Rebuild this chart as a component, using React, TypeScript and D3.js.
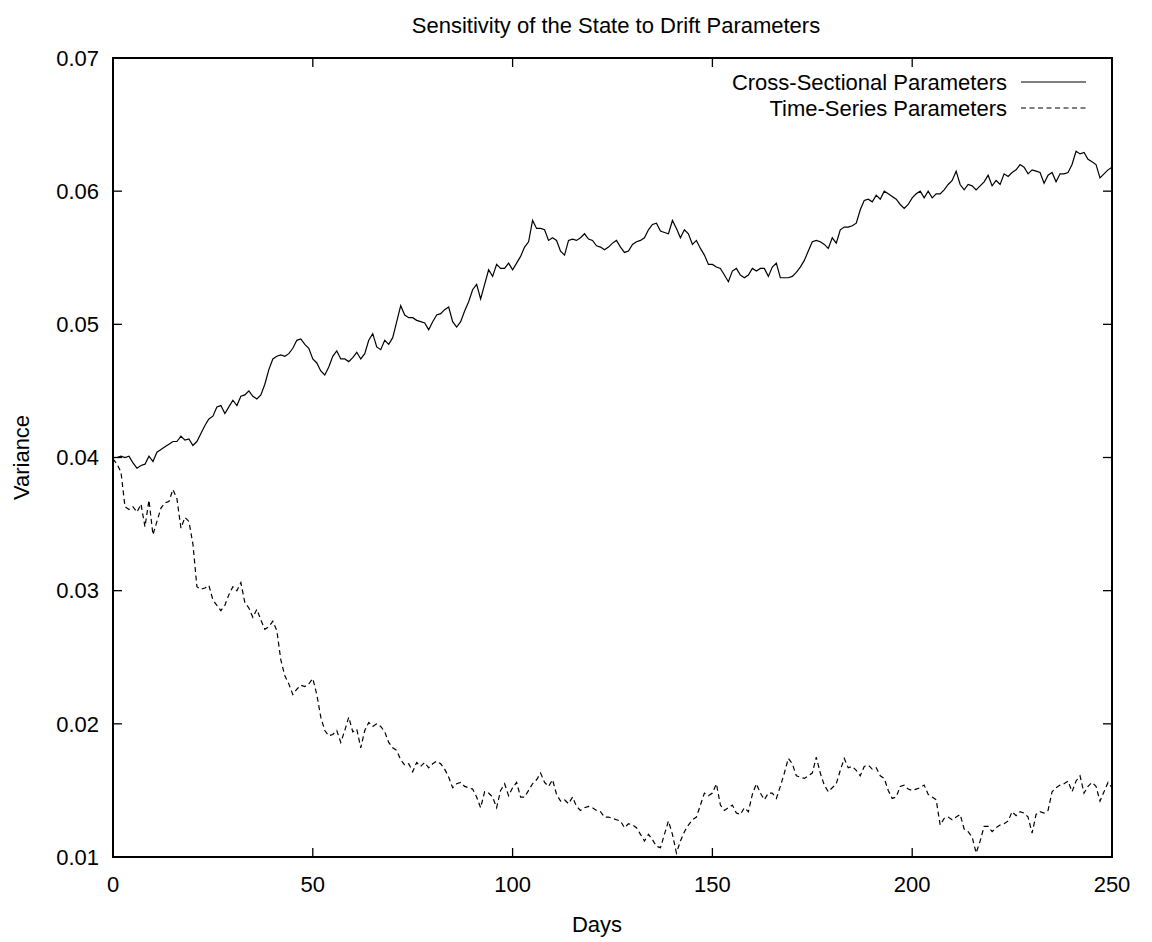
import { useRef, useEffect } from "react";
import * as d3 from "d3";

// variance per day, days 0..250
const crossSectional = [
  0.0400, 0.0400, 0.0401, 0.0400, 0.0401, 0.0396, 0.0392, 0.0394, 0.0395, 0.0401,
  0.0397, 0.0404, 0.0406, 0.0408, 0.0410, 0.0412, 0.0412, 0.0416, 0.0413, 0.0414,
  0.0409, 0.0412, 0.0418, 0.0424, 0.0429, 0.0431, 0.0438, 0.0439, 0.0433, 0.0438,
  0.0443, 0.0439, 0.0446, 0.0447, 0.0450, 0.0446, 0.0444, 0.0447, 0.0455, 0.0466,
  0.0474, 0.0476, 0.0477, 0.0476, 0.0478, 0.0482, 0.0488, 0.0489, 0.0485, 0.0482,
  0.0474, 0.0471, 0.0465, 0.0462, 0.0468, 0.0476, 0.0480, 0.0474, 0.0474, 0.0472,
  0.0475, 0.0479, 0.0474, 0.0478, 0.0488, 0.0493, 0.0483, 0.0481, 0.0488, 0.0485,
  0.0490, 0.0502, 0.0514, 0.0507, 0.0505, 0.0505, 0.0503, 0.0502, 0.0501, 0.0496,
  0.0502, 0.0507, 0.0508, 0.0511, 0.0513, 0.0502, 0.0498, 0.0502, 0.0510, 0.0517,
  0.0526, 0.0530, 0.0519, 0.0530, 0.0541, 0.0536, 0.0545, 0.0542, 0.0542, 0.0546,
  0.0541, 0.0546, 0.0551, 0.0558, 0.0562, 0.0578, 0.0572, 0.0572, 0.0571, 0.0563,
  0.0565, 0.0563, 0.0555, 0.0552, 0.0563, 0.0564, 0.0563, 0.0565, 0.0568, 0.0564,
  0.0563, 0.0559, 0.0558, 0.0556, 0.0558, 0.0561, 0.0563, 0.0558, 0.0554, 0.0555,
  0.0560, 0.0562, 0.0563, 0.0565, 0.0571, 0.0575, 0.0576, 0.0570, 0.0569, 0.0568,
  0.0578, 0.0572, 0.0565, 0.0571, 0.0568, 0.0560, 0.0563, 0.0557, 0.0552, 0.0545,
  0.0545, 0.0543, 0.0542, 0.0537, 0.0532, 0.0540, 0.0542, 0.0537, 0.0535, 0.0537,
  0.0542, 0.0540, 0.0542, 0.0542, 0.0536, 0.0543, 0.0546, 0.0535, 0.0535, 0.0535,
  0.0536, 0.0539, 0.0543, 0.0548, 0.0555, 0.0562, 0.0563, 0.0562, 0.0560, 0.0557,
  0.0565, 0.0561, 0.0571, 0.0573, 0.0573, 0.0574, 0.0576, 0.0586, 0.0593, 0.0594,
  0.0592, 0.0597, 0.0594, 0.0600, 0.0598, 0.0596, 0.0594, 0.0590, 0.0587, 0.0590,
  0.0595, 0.0598, 0.0600, 0.0595, 0.0600, 0.0595, 0.0598, 0.0598, 0.0601, 0.0605,
  0.0608, 0.0615, 0.0605, 0.0601, 0.0605, 0.0604, 0.0601, 0.0604, 0.0607, 0.0612,
  0.0604, 0.0608, 0.0605, 0.0613, 0.0611, 0.0614, 0.0616, 0.0620, 0.0618, 0.0613,
  0.0616, 0.0615, 0.0614, 0.0606, 0.0612, 0.0614, 0.0607, 0.0613, 0.0613, 0.0614,
  0.0620, 0.0630, 0.0628, 0.0629, 0.0624, 0.0622, 0.0620, 0.0610, 0.0613, 0.0616,
  0.0618,
];

const timeSeries = [
  0.0399, 0.0395, 0.0389, 0.0363, 0.0361, 0.0363, 0.0359, 0.0365, 0.0348, 0.0368,
  0.0342, 0.0352, 0.0362, 0.0366, 0.0367, 0.0376, 0.0369, 0.0347, 0.0355, 0.0352,
  0.0335, 0.0303, 0.0301, 0.0302, 0.0304, 0.0293, 0.0289, 0.0285, 0.0289, 0.0297,
  0.0303, 0.0300, 0.0306, 0.0291, 0.0287, 0.0280, 0.0286, 0.0278, 0.0271, 0.0273,
  0.0277, 0.0270, 0.0248, 0.0236, 0.0230, 0.0222, 0.0226, 0.0229, 0.0228, 0.0230,
  0.0234, 0.0222, 0.0205, 0.0195, 0.0191, 0.0192, 0.0195, 0.0186, 0.0195, 0.0205,
  0.0194, 0.0196, 0.0182, 0.0195, 0.0201, 0.0198, 0.0200, 0.0198, 0.0194, 0.0186,
  0.0182, 0.0180, 0.0173, 0.0169, 0.0170, 0.0164, 0.0171, 0.0168, 0.0171, 0.0167,
  0.0170, 0.0172, 0.0170, 0.0166, 0.0160, 0.0152, 0.0155, 0.0156, 0.0153, 0.0152,
  0.0151, 0.0145, 0.0137, 0.0149, 0.0148, 0.0145, 0.0137, 0.0150, 0.0155, 0.0146,
  0.0152, 0.0156, 0.0145, 0.0145, 0.0150, 0.0155, 0.0158, 0.0163, 0.0156, 0.0153,
  0.0158, 0.0147, 0.0142, 0.0143, 0.0140, 0.0145, 0.0138, 0.0135, 0.0137, 0.0138,
  0.0137, 0.0135, 0.0134, 0.0130, 0.0130, 0.0129, 0.0128, 0.0127, 0.0122, 0.0125,
  0.0124, 0.0122, 0.0117, 0.0112, 0.0117, 0.0113, 0.0108, 0.0107, 0.0117, 0.0127,
  0.0117, 0.0103, 0.0112, 0.0119, 0.0124, 0.0128, 0.0130, 0.0139, 0.0148, 0.0146,
  0.0148, 0.0155, 0.0139, 0.0135, 0.0137, 0.0139, 0.0133, 0.0132, 0.0137, 0.0134,
  0.0147, 0.0155, 0.0148, 0.0143, 0.0148, 0.0148, 0.0144, 0.0153, 0.0163, 0.0174,
  0.0170, 0.0161, 0.0160, 0.0159, 0.0161, 0.0163, 0.0175, 0.0163, 0.0154, 0.0149,
  0.0152, 0.0155, 0.0165, 0.0174, 0.0167, 0.0168, 0.0165, 0.0161, 0.0168, 0.0169,
  0.0166, 0.0167, 0.0161, 0.0159, 0.0150, 0.0144, 0.0145, 0.0153, 0.0154, 0.0151,
  0.0150, 0.0151, 0.0152, 0.0154, 0.0147, 0.0145, 0.0143, 0.0124, 0.0129, 0.0130,
  0.0128, 0.0130, 0.0132, 0.0121, 0.0119, 0.0115, 0.0103, 0.0112, 0.0123, 0.0123,
  0.0119, 0.0122, 0.0124, 0.0125, 0.0127, 0.0134, 0.0131, 0.0134, 0.0133, 0.0130,
  0.0118, 0.0132, 0.0134, 0.0133, 0.0135, 0.0149, 0.0152, 0.0154, 0.0155, 0.0157,
  0.0149, 0.0157, 0.0161, 0.0148, 0.0153, 0.0156, 0.0153, 0.0142, 0.0149, 0.0156,
  0.0152,
];

const xTicks = [0, 50, 100, 150, 200, 250];
const yTicks = [0.01, 0.02, 0.03, 0.04, 0.05, 0.06, 0.07];
const seriesNames = ["Cross-Sectional Parameters", "Time-Series Parameters"];

const FONT = "'Liberation Sans', Arial, Helvetica, sans-serif";

export default function App() {
  const svgRef = useRef<SVGSVGElement>(null);

  useEffect(() => {
    if (!svgRef.current) return;
    const svg = d3.select(svgRef.current);
    svg.selectAll("*").remove();

    const width = 1152;
    const height = 942;
    const margin = { top: 58, right: 40, bottom: 85, left: 113 };
    const x0 = margin.left;
    const x1 = width - margin.right;
    const y0 = margin.top;
    const y1 = height - margin.bottom;

    const x = d3.scaleLinear().domain([0, 250]).range([x0, x1]);
    const y = d3.scaleLinear().domain([0.01, 0.07]).range([y1, y0]);

    svg.append("rect").attr("width", width).attr("height", height).attr("fill", "#fff");

    const fs = "22px";

    // title
    svg.append("text").attr("x", 616).attr("y", 33)
      .attr("text-anchor", "middle").attr("font-family", FONT).attr("font-size", fs)
      .text("Sensitivity of the State to Drift Parameters");

    const tickLen = 9;
    const ticks = svg.append("g").attr("stroke", "#000").attr("stroke-width", 1.3);

    yTicks.forEach((t) => {
      ticks.append("line").attr("x1", x0).attr("x2", x0 + tickLen).attr("y1", y(t)).attr("y2", y(t));
      ticks.append("line").attr("x1", x1).attr("x2", x1 - tickLen).attr("y1", y(t)).attr("y2", y(t));
      svg.append("text").attr("x", x0 - 14).attr("y", y(t)).attr("dy", "0.35em")
        .attr("text-anchor", "end").attr("font-family", FONT).attr("font-size", fs)
        .text(d3.format(".2f")(t));
    });

    xTicks.forEach((t) => {
      ticks.append("line").attr("x1", x(t)).attr("x2", x(t)).attr("y1", y1).attr("y2", y1 - tickLen);
      ticks.append("line").attr("x1", x(t)).attr("x2", x(t)).attr("y1", y0).attr("y2", y0 + tickLen);
      svg.append("text").attr("x", x(t)).attr("y", y1 + 35)
        .attr("text-anchor", "middle").attr("font-family", FONT).attr("font-size", fs)
        .text(String(t));
    });

    // axis titles
    svg.append("text").attr("x", 597).attr("y", 932)
      .attr("text-anchor", "middle").attr("font-family", FONT).attr("font-size", fs)
      .text("Days");
    svg.append("text")
      .attr("transform", `translate(29, ${(y0 + y1) / 2}) rotate(-90)`)
      .attr("text-anchor", "middle").attr("font-family", FONT).attr("font-size", fs)
      .text("Variance");

    const line = d3.line<number>()
      .x((_, i) => x(i))
      .y((d) => y(d));

    svg.append("path").datum(crossSectional)
      .attr("d", line).attr("fill", "none").attr("stroke", "#000").attr("stroke-width", 1.2);
    svg.append("path").datum(timeSeries)
      .attr("d", line).attr("fill", "none").attr("stroke", "#000").attr("stroke-width", 1.2)
      .attr("stroke-dasharray", "5,3.5");

    // legend
    const legendY = [82, 108];
    seriesNames.forEach((name, i) => {
      svg.append("text").attr("x", 1007).attr("y", legendY[i]).attr("dy", "0.35em")
        .attr("text-anchor", "end").attr("font-family", FONT).attr("font-size", fs)
        .text(name);
      svg.append("line").attr("x1", 1021).attr("x2", 1086)
        .attr("y1", legendY[i]).attr("y2", legendY[i])
        .attr("stroke", "#000").attr("stroke-width", 1.2)
        .attr("stroke-dasharray", i === 1 ? "5,3.5" : null);
    });

    // frame
    svg.append("rect").attr("x", x0).attr("y", y0)
      .attr("width", x1 - x0).attr("height", y1 - y0)
      .attr("fill", "none").attr("stroke", "#000").attr("stroke-width", 2);
  }, []);

  return (
    <svg
      ref={svgRef}
      width={1152}
      height={942}
      style={{ position: "absolute", left: 0, top: 0, display: "block" }}
    />
  );
}
